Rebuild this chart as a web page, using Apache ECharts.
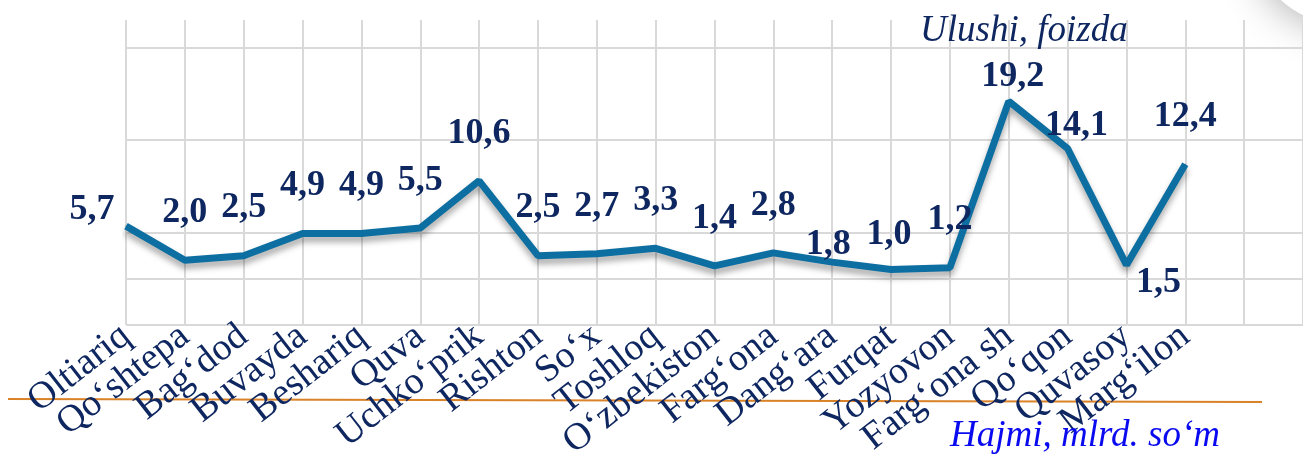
<!DOCTYPE html>
<html>
<head>
<meta charset="utf-8">
<style>
  html, body { margin: 0; padding: 0; background: #fff; }
  #chart { width: 1303px; height: 454px; }
</style>
<script src="https://cdn.jsdelivr.net/npm/echarts@6/dist/echarts.min.js"></script>
</head>
<body>
<div id="chart"></div>
<script>
// districts (two empty slots keep the grid going to the right edge)
var districts = ['Oltiariq', 'Qo‘shtepa', 'Bag‘dod', 'Buvayda', 'Beshariq', 'Quva',
    'Uchko‘prik', 'Rishton', 'So‘x', 'Toshloq', 'O‘zbekiston', 'Farg‘ona',
    'Dang‘ara', 'Furqat', 'Yozyovon', 'Farg‘ona sh', 'Qo‘qon', 'Quvasoy', 'Marg‘ilon', '', ''];

// share, percent
var shares = [5.7, 2.0, 2.5, 4.9, 4.9, 5.5, 10.6, 2.5, 2.7, 3.3, 1.4, 2.8, 1.8, 1.0, 1.2, 19.2, 14.1, 1.5, 12.4];

// label nudges [dx, dy] away from the default "top" spot
var labelShift = {
    0: [-34, 31], 12: [-4, 30], 13: [-2, 13], 15: [4, 23], 16: [9, 25], 17: [32, 65]
};

var navy = '#0f2760';
var gridGray = '#d9d9d9';

var seriesData = shares.map(function (v, i) {
    var item = { value: v };
    if (labelShift[i]) {
        item.label = { offset: labelShift[i] };
    }
    return item;
});

var myChart = echarts.init(document.getElementById('chart'));

var option = {
    backgroundColor: '#ffffff',
    animation: false,
    title: [
        {
            text: 'Ulushi, foizda',
            left: 915,
            top: 8,
            textStyle: {
                fontFamily: 'Liberation Serif',
                fontStyle: 'italic',
                fontWeight: 'normal',
                fontSize: 37,
                color: navy
            }
        },
        {
            text: 'Hajmi, mlrd. so‘m',
            left: 945,
            top: 413,
            textStyle: {
                fontFamily: 'Liberation Serif',
                fontStyle: 'italic',
                fontWeight: 'normal',
                fontSize: 37,
                color: '#0a0af0'
            }
        }
    ],
    graphic: [
        {
            type: 'line',
            z: -1,
            shape: { x1: 8, y1: 399, x2: 1262, y2: 402 },
            style: { stroke: '#d98227', lineWidth: 2 }
        },
        {
            // soft shadow blob in the top right corner
            type: 'circle',
            z: -2,
            shape: { cx: 1345, cy: -70, r: 95 },
            style: {
                fill: '#ffffff',
                shadowBlur: 40,
                shadowColor: 'rgba(0,0,0,0.3)',
                shadowOffsetY: 4
            }
        }
    ],
    grid: {
        left: 126,
        right: 0,
        top: 20,
        bottom: 129,
        containLabel: false,
        outerBoundsMode: 'none'
    },
    xAxis: {
        type: 'category',
        boundaryGap: false,
        data: districts,
        axisLine: { show: false },
        axisTick: { show: false },
        axisLabel: {
            rotate: 38,
            interval: 0,
            margin: 7,
            fontFamily: 'Liberation Serif',
            fontSize: 38,
            color: navy
        },
        splitLine: {
            show: true,
            lineStyle: { color: gridGray, width: 2 }
        }
    },
    yAxis: {
        type: 'value',
        min: -5,
        max: 28,
        interval: 5,
        axisLine: { show: false },
        axisTick: { show: false },
        axisLabel: { show: false },
        splitLine: {
            show: true,
            lineStyle: {
                width: 2,
                color: [gridGray, gridGray, gridGray, 'rgba(0,0,0,0)', gridGray,
                    'rgba(0,0,0,0)', gridGray, 'rgba(0,0,0,0)']
            }
        }
    },
    series: [
        {
            name: 'Ulushi',
            type: 'line',
            data: seriesData,
            showSymbol: true,
            symbol: 'circle',
            symbolSize: 1,
            itemStyle: { color: '#0d6fa1' },
            lineStyle: {
                color: '#0d6fa1',
                width: 7,
                shadowColor: 'rgba(0,0,0,0.35)',
                shadowBlur: 6,
                shadowOffsetY: 5
            },
            label: {
                show: true,
                position: 'top',
                distance: 29,
                fontFamily: 'Liberation Serif',
                fontWeight: 'bold',
                fontSize: 36,
                color: navy,
                formatter: function (p) {
                    return p.value.toFixed(1).replace('.', ',');
                }
            }
        }
    ]
};

myChart.setOption(option);
</script>
</body>
</html>
